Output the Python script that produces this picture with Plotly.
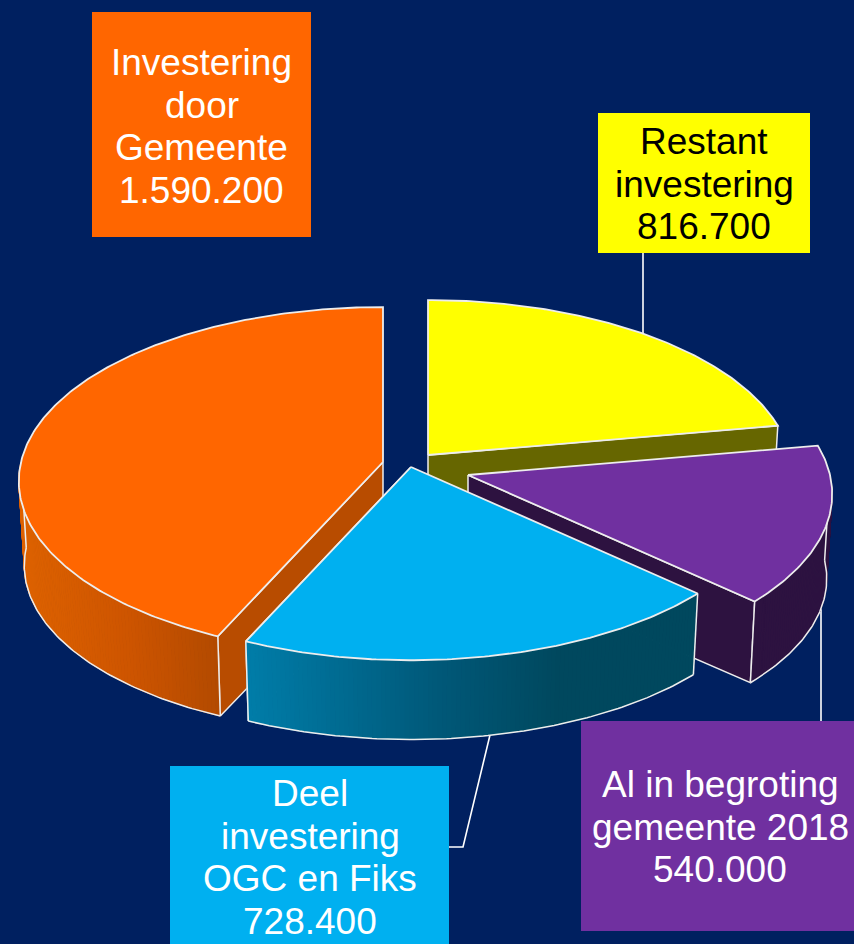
import math
import plotly.graph_objects as go

# ---- data ----
categories = ["Restant investering", "Al in begroting gemeente 2018",
              "Deel investering OGC en Fiks", "Investering door Gemeente"]
values = [816700, 540000, 728400, 1590200]
label_lines = [["Restant", "investering", "816.700"],
               ["Al in begroting", "gemeente 2018", "540.000"],
               ["Deel", "investering", "OGC en Fiks", "728.400"],
               ["Investering", "door", "Gemeente", "1.590.200"]]

# ---- styles / layout ----
BG = "#002060"
top_colors = ["#FFFF00", "#7030A0", "#00B0F0", "#FF6600"]
wall_colors = ["#666600", "#2D1240", "#004A60", "#B84C00"]
# gradient stops of the outer rim: (x pixel, rgb)
rim_stops = [None,
             [(0, (45, 18, 64)), (854, (45, 18, 64))],
             [(250, (0, 124, 168)), (440, (0, 88, 120)), (560, (0, 72, 94)), (700, (0, 72, 94))],
             [(20, (222, 98, 0)), (130, (205, 84, 0)), (220, (178, 74, 0))]]
apexes = [(428, 455), (468, 475), (411, 467), (383, 462)]
RX, RY, PERSP, DEPTH, BX, BY = 362, 172, 0.11, 85, 0.985, 0.97
EDGE = "#EDEDED"
EW = 1.8
FONT = "Liberation Sans"
FS = 37
boxes = [(598, 113, 810, 253), (581, 721, 854, 931), (170, 766, 449, 944), (92, 12, 311, 237)]
text_centers = [(704, [141, 184, 226]), (720, [784, 827, 869]),
                (310, [793, 836, 878, 921]), (201.5, [62, 105, 147, 190])]
leaders = [[(643, 253), (643, 335)],
           [(821, 600), (821, 721)],
           [(490, 735), (463, 847), (449, 847)]]
draw_order = [0, 3, 1, 2]


def project(deg):
    """offset of a rim point at a clockwise pie angle (deg from 12 o'clock)"""
    a = math.radians(deg)
    X, Y = math.sin(a), math.cos(a)
    s = 1 / (1 + PERSP * Y)
    return RX * X * s, -RY * Y * s


def top_pt(i, deg):
    dx, dy = project(deg)
    return apexes[i][0] + dx, apexes[i][1] + dy


def bot_pt(i, deg):
    dx, dy = project(deg)
    return apexes[i][0] + BX * dx, apexes[i][1] + BY * dy + DEPTH


def rim_color(i, x):
    st = rim_stops[i]
    if x <= st[0][0]:
        c = st[0][1]
    elif x >= st[-1][0]:
        c = st[-1][1]
    else:
        for (x0, c0), (x1, c1) in zip(st, st[1:]):
            if x0 <= x <= x1:
                t = (x - x0) / (x1 - x0)
                c = tuple(c0[k] + t * (c1[k] - c0[k]) for k in range(3))
                break
    return "rgb(%d,%d,%d)" % tuple(round(v) for v in c)


def poly(fig, pts, fill=None, line=None, width=EW, closed=True):
    xs = [p[0] for p in pts]
    ys = [p[1] for p in pts]
    if closed:
        xs.append(xs[0])
        ys.append(ys[0])
    fig.add_trace(go.Scatter(
        x=xs, y=ys, mode="lines", hoverinfo="skip", showlegend=False,
        fill="toself" if fill else "none", fillcolor=fill,
        line=dict(color=line or fill or "rgba(0,0,0,0)", width=width)))


fig = go.Figure()

for seg in leaders:
    poly(fig, seg, line="#FFFFFF", width=1.6, closed=False)

# pie angles follow from the values, clockwise from 12 o'clock
total = sum(values)
spans = []
start = 0.0
for v in values:
    end = start + 360 * v / total
    spans.append((start, end))
    start = end

for i in draw_order:
    a0, a1 = spans[i]
    n = max(8, int((a1 - a0) * 1.5))
    arc = [a0 + (a1 - a0) * k / n for k in range(n + 1)]

    # radial wall facing the viewer
    wall_deg = a0 if i == 3 else a1
    poly(fig, [apexes[i], top_pt(i, wall_deg), bot_pt(i, wall_deg),
               (apexes[i][0], apexes[i][1] + DEPTH)],
         fill=wall_colors[i], line=EDGE, width=1.5)

    # outer rim, only the part that faces the viewer
    if rim_stops[i]:
        vis = [d for d in arc if 90 <= d <= 270]
        for d0, d1 in zip(vis, vis[1:]):
            xm = (top_pt(i, d0)[0] + top_pt(i, d1)[0]) / 2
            poly(fig, [top_pt(i, d0), top_pt(i, d1), bot_pt(i, d1), bot_pt(i, d0)],
                 fill=rim_color(i, xm), width=1)
        poly(fig, [bot_pt(i, d) for d in vis], line=EDGE, width=1.5, closed=False)
        for d in (vis[0], vis[-1]):
            poly(fig, [top_pt(i, d), bot_pt(i, d)], line=EDGE, width=1.5, closed=False)

    # top surface
    poly(fig, [apexes[i]] + [top_pt(i, d) for d in arc], fill=top_colors[i], line=EDGE)

# label boxes and texts
shapes = []
annotations = []
for i in range(4):
    x0, y0, x1, y1 = boxes[i]
    shapes.append(dict(type="rect", x0=x0, y0=y0, x1=x1, y1=y1, xref="x", yref="y",
                       fillcolor=top_colors[i], line=dict(width=0), layer="above"))
    cx, ys = text_centers[i]
    for t, y in zip(label_lines[i], ys):
        annotations.append(dict(x=cx, y=y, xref="x", yref="y", text=t, showarrow=False,
                                xanchor="center", yanchor="middle",
                                font=dict(family=FONT, size=FS,
                                          color="#000000" if i == 0 else "#FFFFFF")))

fig.update_layout(
    width=854, height=944, margin=dict(l=0, r=0, t=0, b=0),
    paper_bgcolor=BG, plot_bgcolor=BG, showlegend=False,
    xaxis=dict(range=[0, 854], visible=False, fixedrange=True),
    yaxis=dict(range=[944, 0], visible=False, fixedrange=True),
    shapes=shapes, annotations=annotations)

fig.write_html("out.html", config=dict(displayModeBar=False),
               post_script="document.body.style.margin='0';document.body.style.overflow='hidden';document.body.style.background='%s';" % BG)
